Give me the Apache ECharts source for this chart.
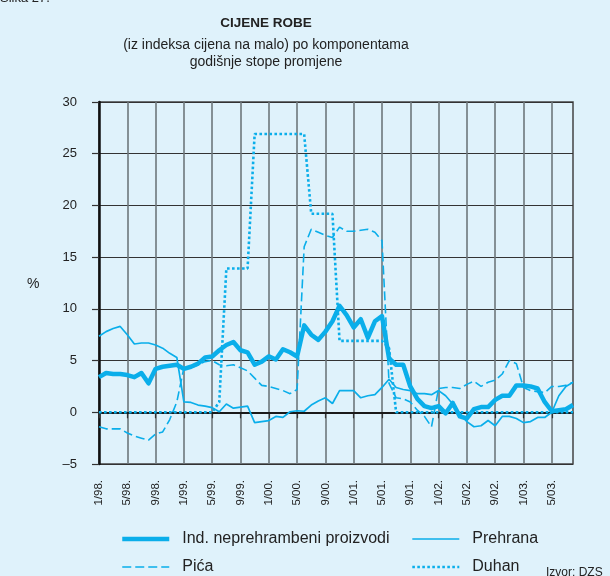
<!DOCTYPE html>
<html><head><meta charset="utf-8">
<script src="https://cdn.jsdelivr.net/npm/echarts@6/dist/echarts.min.js"></script>
<style>html,body{margin:0;padding:0;background:#dff2fb;}#c{width:610px;height:576px;}</style>
</head><body><div id="c"></div>
<script>
const categories = [
 '1/98.','2/98.','3/98.','4/98.','5/98.','6/98.','7/98.','8/98.','9/98.','10/98.','11/98.','12/98.',
 '1/99.','2/99.','3/99.','4/99.','5/99.','6/99.','7/99.','8/99.','9/99.','10/99.','11/99.','12/99.',
 '1/00.','2/00.','3/00.','4/00.','5/00.','6/00.','7/00.','8/00.','9/00.','10/00.','11/00.','12/00.',
 '1/01.','2/01.','3/01.','4/01.','5/01.','6/01.','7/01.','8/01.','9/01.','10/01.','11/01.','12/01.',
 '1/02.','2/02.','3/02.','4/02.','5/02.','6/02.','7/02.','8/02.','9/02.','10/02.','11/02.','12/02.',
 '1/03.','2/03.','3/03.','4/03.','5/03.','6/03.','7/03.','8/03.'
];
const indNeprehrambeni = [
 3.4,3.8,3.7,3.7,3.6,3.4,3.8,2.8,4.2,4.4,4.5,4.6,
 4.2,4.4,4.7,5.3,5.4,6.0,6.5,6.8,6.0,5.8,4.6,4.9,
 5.4,5.1,6.1,5.8,5.4,8.4,7.5,7.0,7.8,8.8,10.3,9.4,
 8.2,9.0,7.2,8.8,9.3,5.2,4.6,4.6,2.5,1.3,0.6,0.4,
 0.6,-0.1,0.9,-0.4,-0.6,0.3,0.5,0.5,1.2,1.6,1.6,2.6,
 2.6,2.5,2.3,1.0,0.1,0.2,0.3,0.7
];
const prehrana = [
 7.35,7.8,8.1,8.3,7.5,6.6,6.7,6.7,6.5,6.2,5.7,5.3,
 1.0,0.95,0.7,0.6,0.45,0.05,0.8,0.4,0.5,0.6,-1.0,-0.9,
 -0.8,-0.4,-0.5,0.05,0.15,0.1,0.7,1.1,1.4,0.85,2.1,2.1,
 2.1,1.4,1.6,1.7,2.4,3.2,2.4,2.2,2.1,1.8,1.8,1.7,
 2.1,1.6,0.8,-0.1,-0.9,-1.4,-1.3,-0.8,-1.3,-0.4,-0.4,-0.6,
 -1.0,-0.9,-0.5,-0.5,0.0,1.6,2.5,2.9
];
const pica = [
 -1.4,-1.6,-1.6,-1.6,-2.0,-2.3,-2.5,-2.7,-2.1,-1.9,-0.7,1.0,
 4.3,4.3,4.6,4.9,5.0,4.6,4.5,4.6,4.3,4.0,3.3,2.6,
 2.5,2.3,2.1,1.8,2.2,16.0,17.7,17.4,17.1,16.9,17.9,17.5,
 17.5,17.6,17.7,17.4,16.6,2.8,1.4,1.3,1.0,0.2,-0.4,-1.4,
 2.3,2.4,2.4,2.3,2.7,3.0,2.5,2.9,3.1,3.7,5.0,4.7,
 2.4,2.1,2.0,1.9,2.5,2.5,2.6,2.9
];
const duhan = [
 0,0,0,0,0,0,0,0,0,0,0,0,
 0,0,0,0,0,1.0,13.9,13.9,13.9,13.9,26.9,26.9,
 26.9,26.9,26.9,26.9,26.9,26.9,19.2,19.2,19.2,19.2,6.9,6.9,
 6.9,6.9,6.9,6.9,6.9,6.2,0,0,0,0,0,0,
 0,0,0,0,0,0,0,0,0,0,0,0,
 0,0,0,0,0,0,0,0
];
const seriesNames = ['Ind. neprehrambeni proizvodi','Prehrana','Pića','Duhan'];

const FONT = 'Liberation Sans';
const CYAN = '#0aaeea';
const chart = echarts.init(document.getElementById('c'), null, {renderer:'canvas'});
const legendCommon = {orient: 'vertical', top: 531, itemWidth: 47, itemHeight: 14, itemGap: 12, padding: 0,
  itemStyle: {opacity: 0, borderWidth: 0},
  lineStyle: {width: 'inherit'},
  textStyle: {fontSize: 16, color: '#222', fontFamily: FONT, padding: [0,0,0,8]}};
chart.setOption({
  backgroundColor: '#dff2fb',
  animation: false,
  textStyle: {fontFamily: FONT},
  title: [
    {text: 'Slika 27.', left: 0, top: -8, padding: 0, textStyle: {fontSize: 13, fontWeight: 'normal', color: '#222', fontFamily: FONT}},
    {text: 'CIJENE ROBE', left: 266, top: 16, padding: 0, textAlign: 'center', textStyle: {fontSize: 13.5, fontWeight: 'bold', color: '#222', fontFamily: FONT}},
    {text: '(iz indeksa cijena na malo) po komponentama\ngodišnje stope promjene', left: 266, top: 37, padding: 0, textAlign: 'center', textStyle: {fontSize: 14, fontWeight: 'normal', color: '#222', lineHeight: 17, fontFamily: FONT}},
    {text: '%', left: 27, top: 277, padding: 0, textStyle: {fontSize: 14, fontWeight: 'normal', color: '#222', fontFamily: FONT}},
    {text: 'Izvor: DZS', left: 546, top: 567, padding: 0, textStyle: {fontSize: 12, fontWeight: 'normal', color: '#222', fontFamily: FONT}}
  ],
  legend: [
    Object.assign({}, legendCommon, {data: [seriesNames[0], seriesNames[2]], left: 120}),
    Object.assign({}, legendCommon, {data: [seriesNames[1], seriesNames[3]], left: 411})
  ],
  grid: {left: 99, top: 102, right: 37, bottom: 112, containLabel: false, outerBoundsMode: 'none',
         show: true, borderColor: '#444', borderWidth: 1.5, backgroundColor: 'transparent'},
  xAxis: {
    type: 'category', data: categories, boundaryGap: false,
    axisLine: {show: true, lineStyle: {color: '#333', width: 1.5}},
    axisTick: {show: true, interval: 3, length: 6, inside: false, lineStyle: {color: '#333', width: 1.2}},
    axisLabel: {interval: 3, rotate: 90, margin: 16, fontSize: 11.5, color: '#222', fontFamily: FONT},
    splitLine: {show: true, interval: 3, lineStyle: {color: '#6d777c', width: 1.6}}
  },
  yAxis: {
    type: 'value', min: -5, max: 30, interval: 5,
    axisLine: {show: true, onZero: false, lineStyle: {color: '#111', width: 2.5}},
    axisTick: {show: true, length: 7, inside: false, lineStyle: {color: '#333', width: 1.2}},
    axisLabel: {margin: 22, fontSize: 13, color: '#222', fontFamily: FONT,
      formatter: v => v < 0 ? '\u2013' + Math.abs(v) : String(v)},
    splitLine: {show: true, lineStyle: {color: '#333', width: 1.2}}
  },
  series: [
    {name: seriesNames[3], type: 'line', data: duhan, symbol: 'none', z: 3,
     lineStyle: {color: CYAN, width: 2.6, type: [2.6, 2.4]}, itemStyle: {color: CYAN}},
    {name: seriesNames[2], type: 'line', data: pica, symbol: 'none', z: 3,
     lineStyle: {color: CYAN, width: 1.6, type: [9, 4]}, itemStyle: {color: CYAN}},
    {name: seriesNames[1], type: 'line', data: prehrana, symbol: 'none', z: 3,
     lineStyle: {color: CYAN, width: 1.7}, itemStyle: {color: CYAN},
     markLine: {silent: true, z: 1, symbol: ['none','none'], label: {show: false},
       lineStyle: {color: '#1a1a1a', width: 2.2, type: 'solid'}, data: [{yAxis: 0}]}},
    {name: seriesNames[0], type: 'line', data: indNeprehrambeni, symbol: 'none', z: 4,
     lineStyle: {color: CYAN, width: 4.5, join: 'round'}, itemStyle: {color: CYAN}}
  ]
});
</script></body></html>
